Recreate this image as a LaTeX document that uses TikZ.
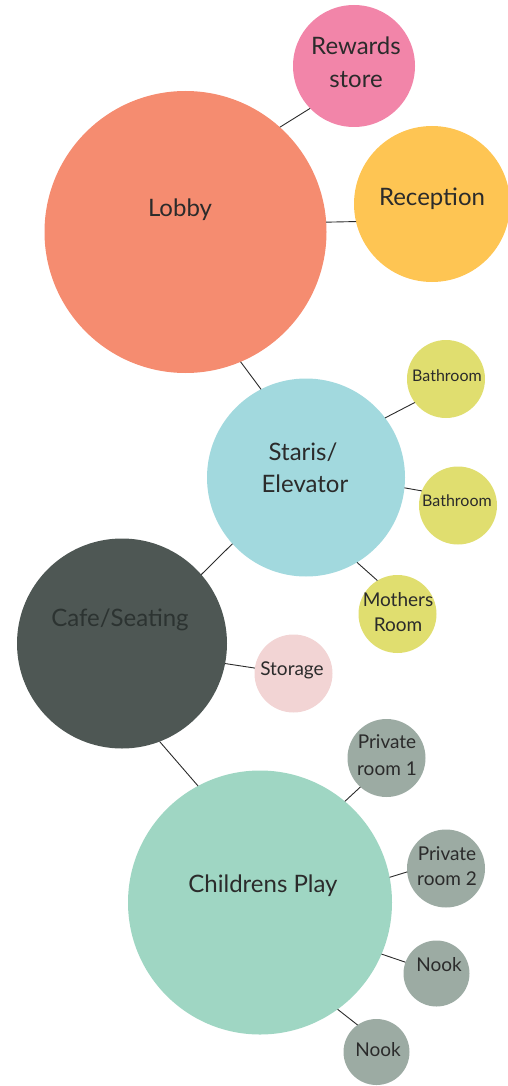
\documentclass[tikz,border=0pt]{standalone}
\usepackage{fontspec}
\setmainfont{Lato}
\definecolor{clobby}{HTML}{F58C70}
\definecolor{crew}{HTML}{F285A9}
\definecolor{crec}{HTML}{FEC553}
\definecolor{cstair}{HTML}{A2D9DE}
\definecolor{cyel}{HTML}{E0DE6F}
\definecolor{ccafe}{HTML}{4E5754}
\definecolor{cstor}{HTML}{F2D4D4}
\definecolor{cchild}{HTML}{9FD6C3}
\definecolor{cgrey}{HTML}{9CABA3}
\definecolor{ctext}{HTML}{2B2B2B}
\definecolor{ccafetext}{HTML}{2C3331}
\definecolor{cline}{HTML}{2B2B2B}
\tikzset{
  bubble/.style={circle, draw=none, inner sep=0pt, outer sep=0pt, minimum size=#1},
  bigtxt/.style={anchor=base, inner sep=0pt, text=ctext, font=\fontsize{24}{30}\selectfont},
  midtxt/.style={anchor=base, inner sep=0pt, text=ctext, font=\fontsize{19}{25}\selectfont},
  smalltxt/.style={anchor=base, inner sep=0pt, text=ctext, font=\fontsize{16}{20}\selectfont},
  link/.style={draw=cline, line width=0.9pt}
}
\begin{document}
\begin{tikzpicture}[x=1pt,y=-1pt]
\useasboundingbox (0,0) rectangle (507,1086);
% bubbles
\node[bubble=122pt, fill=crew] (rew) at (354,66) {};
\node[bubble=282pt, fill=clobby] (lobby) at (185.5,232) {};
\node[bubble=156pt, fill=crec] (rec) at (432,204) {};
\node[bubble=198pt, fill=cstair] (stair) at (306,477.5) {};
\node[bubble=78pt, fill=cyel] (bath1) at (446,379) {};
\node[bubble=78pt, fill=cyel] (bath2) at (458,505.5) {};
\node[bubble=78pt, fill=cyel] (moth) at (397.5,614) {};
\node[bubble=210pt, fill=ccafe] (cafe) at (122,643.5) {};
\node[bubble=78pt, fill=cstor] (stor) at (293.5,673.5) {};
\node[bubble=264pt, fill=cchild] (child) at (260,902.5) {};
\node[bubble=78pt, fill=cgrey] (pr1) at (386.5,758) {};
\node[bubble=78pt, fill=cgrey] (pr2) at (446,868.5) {};
\node[bubble=66pt, fill=cgrey] (nook1) at (436.5,973.5) {};
\node[bubble=66pt, fill=cgrey] (nook2) at (376.5,1052) {};
% connectors
\draw[link] (lobby.48.9) -- (rew.224.3);
\draw[link] (lobby.4.4) -- (rec.193.5);
\draw[link] (lobby.293.8) -- (stair.117.7);
\draw[link] (stair.37) -- (bath1.217.7);
\draw[link] (stair.354) -- (bath2.158);
\draw[link] (stair.301.9) -- (moth.121.8);
\draw[link] (stair.222.8) -- (cafe.41);
\draw[link] (cafe.349.4) -- (stor.172);
\draw[link] (cafe.291.6) -- (child.118.2);
\draw[link] (child.50.1) -- (pr1.228.7);
\draw[link] (child.11) -- (pr2.185);
\draw[link] (child.337.7) -- (nook1.160.5);
\draw[link] (child.306.9) -- (nook2.125.8);
% labels
\node[bigtxt] (rewA) at (356,55) {Rewards};
\node[bigtxt] (rewB) at (356,87.3) {store};
\node[bigtxt] (recA) at (432,205) {Reception};
\node[bigtxt] (lobA) at (180,216.7) {Lobby};
\node[bigtxt] (staA) at (303,460) {Staris/};
\node[bigtxt] (staB) at (305,492.3) {Elevator};
\node[smalltxt] (b1A) at (447,381.7) {Bathroom};
\node[smalltxt] (b2A) at (457,506.7) {Bathroom};
\node[midtxt] (moA) at (398,606.7) {Mothers};
\node[midtxt] (moB) at (398,631.7) {Room};
\node[bigtxt, text=ccafetext] (cafA) at (120,626.7) {Cafe/Seating};
\node[midtxt] (stoA) at (292,675) {Storage};
\node[midtxt] (p1A) at (387,748.3) {Private};
\node[midtxt] (p1B) at (387,775.7) {room 1};
\node[bigtxt] (chA) at (263,892.3) {Childrens Play};
\node[midtxt] (p2A) at (447,860.7) {Private};
\node[midtxt] (p2B) at (447,885.7) {room 2};
\node[midtxt] (n1A) at (439,971.7) {Nook};
\node[midtxt] (n2A) at (378,1056) {Nook};
\end{tikzpicture}
\end{document}
